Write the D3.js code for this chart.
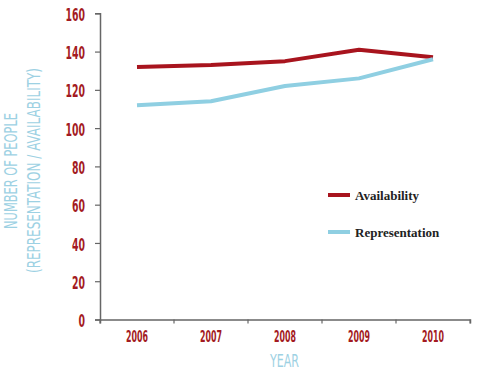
<!DOCTYPE html>
<html><head><meta charset="utf-8">
<script src="https://cdn.jsdelivr.net/npm/d3@7"></script>
<style>
body{margin:0;background:#fff;}
.cond{font-family:"DejaVu Sans Condensed","Liberation Sans",sans-serif;}
</style></head>
<body><svg id="c" width="500" height="373"></svg>
<script>
const years = ["2006","2007","2008","2009","2010"];
const availability = [132,133,135,141,137];
const representation = [112,114,122,126,136];
const yTicks = [0,20,40,60,80,100,120,140,160];
const seriesNames = ["Availability","Representation"];
const colors = ["#a8141e","#8fcfe2"];

const svg = d3.select("#c");
const m = {l:100, r:30, t:13.3, b:53.5};
const W = 500, H = 373;
const x = d3.scaleBand().domain(years).range([m.l, W-m.r]);
const y = d3.scaleLinear().domain([0,160]).range([H-m.b, m.t]);
const red = "#a31a22", blue = "#9dd1e3", axisC = "#666";

function squeeze(sel, perChar){
  sel.each(function(){
    const t = d3.select(this);
    t.attr("textLength", t.text().length*perChar).attr("lengthAdjust","spacingAndGlyphs");
  });
}

const yAx = svg.append("g").attr("transform",`translate(${m.l},0)`)
  .call(d3.axisLeft(y).tickValues(yTicks).tickSize(5).tickPadding(10));
const xAx = svg.append("g").attr("transform",`translate(0,${H-m.b})`)
  .call(d3.axisBottom(x).tickSize(4).tickPadding(8));
xAx.selectAll(".tick line").attr("transform",`translate(${-x.bandwidth()/2},0)`);
xAx.append("line").attr("x1",W-m.r).attr("x2",W-m.r).attr("y1",0).attr("y2",4).attr("stroke",axisC);
[yAx,xAx].forEach(g=>{
  g.select(".domain").attr("stroke",axisC).attr("stroke-width",1.5);
  g.selectAll(".tick line").attr("stroke",axisC).attr("stroke-width",1.2);
  g.selectAll("text").attr("class","cond").attr("fill",red).attr("font-weight","bold");
});
yAx.selectAll("text").attr("font-size",17).attr("dy","0.42em");
squeeze(yAx.selectAll("text"), 6.5);
xAx.selectAll("text").attr("font-size",15).attr("dy","0.71em");
squeeze(xAx.selectAll("text"), 5.5);

const line = d3.line().x((d,i)=>x(years[i])+x.bandwidth()/2).y(d=>y(d));
[availability, representation].forEach((s,i)=>{
  svg.append("path").datum(s).attr("d",line).attr("fill","none")
    .attr("stroke",colors[i]).attr("stroke-width",4).attr("stroke-linejoin","round");
});

// legend
seriesNames.forEach((n,i)=>{
  const ly = 195 + i*37;
  svg.append("line").attr("x1",328).attr("x2",350).attr("y1",ly).attr("y2",ly)
    .attr("stroke",colors[i]).attr("stroke-width",4);
  svg.append("text").attr("x",355).attr("y",ly+4.5).text(n)
    .attr("font-family","Liberation Serif, serif").attr("font-size",13).attr("font-weight","bold").attr("fill","#222");
});

// titles
svg.append("text").attr("class","cond").attr("x",284.5).attr("y",367).attr("text-anchor","middle")
  .attr("font-size",18).attr("fill",blue).attr("textLength",29).attr("lengthAdjust","spacingAndGlyphs").text("YEAR");
const yt = svg.append("text").attr("class","cond").attr("text-anchor","middle")
  .attr("transform","translate(0,168) rotate(-90)").attr("font-size",17).attr("fill",blue);
yt.append("tspan").attr("x",-3).attr("y",17).attr("textLength",116).attr("lengthAdjust","spacingAndGlyphs").text("NUMBER OF PEOPLE");
yt.append("tspan").attr("x",-2.5).attr("y",39.5).attr("textLength",205).attr("lengthAdjust","spacingAndGlyphs").text("(REPRESENTATION / AVAILABILITY)");
</script></body></html>
